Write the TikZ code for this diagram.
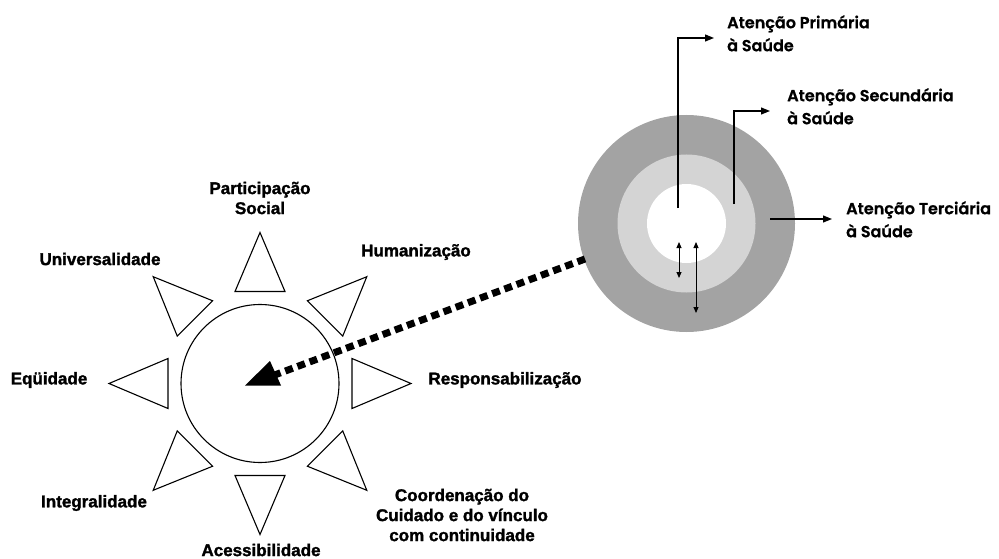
\documentclass[tikz,border=0pt]{standalone}
\usepackage{fontspec}
\newfontfamily\principlefont[FakeBold=1.6]{Liberation Sans Bold}
\newfontfamily\levelfont[FakeBold=0.8]{Poppins SemiBold}
\usetikzlibrary{calc,arrows.meta}

\definecolor{ringouter}{HTML}{A3A3A3}
\definecolor{ringmiddle}{HTML}{D4D4D4}

\tikzset{
  principle/.style={font=\principlefont\fontsize{17}{20}\selectfont, align=center, inner sep=0pt},
  level/.style={font=\levelfont\fontsize{16}{23}\selectfont, align=left, inner sep=0pt, anchor=north west},
  ray/.style={draw=black, line width=1.1pt, fill=white, line join=miter},
  pointer/.style={line width=1.2pt, -{Triangle[length=9pt,width=7pt]}},
  updown/.style={line width=1pt, {Triangle[length=6pt,width=5pt]}-{Triangle[length=6pt,width=5pt]}},
  chain/.style={line width=7pt, dash pattern=on 8pt off 5pt},
}

\begin{document}
\begin{tikzpicture}[x=1pt,y=-1pt]
  \useasboundingbox (0,0) rectangle (999,559);

  % ---- principles wheel ----
  \coordinate (c) at (260,383.5);
  \draw[line width=1.1pt] (c) circle[radius=79pt];
  \foreach \a in {0,45,...,315}{
    \draw[ray] ($(c)+(\a:92)+(\a+90:25)$) -- ($(c)+(\a:151)$) -- ($(c)+(\a:92)+(\a-90:25)$) -- cycle;
  }

  \node[principle] (ps)  at (260,198) {Participação\\Social};
  \node[principle] (hum) at (416,252) {Humanização};
  \node[principle] (uni) at (100,259) {Universalidade};
  \node[principle] (eq)  at (49,380)  {Eqüidade};
  \node[principle] (res) at (505,380) {Responsabilização};
  \node[principle] (int) at (94,503)  {Integralidade};
  \node[principle] (ace) at (261,550) {Acessibilidade};
  \node[principle] (coo) at (462,515) {Coordenação do\\Cuidado e do vínculo\\com continuidade};

  % ---- levels of care ----
  \coordinate (r) at (686.5,223.5);
  \fill[ringouter]  (r) circle[radius=108.5pt];
  \fill[ringmiddle] (r) circle[radius=69pt];
  \fill[white]      (r) circle[radius=39.5pt];

  \node[level] (ap) at (727,15)  {Atenção Primária\\à Saúde};
  \node[level] (as) at (787,88)  {Atenção Secundária\\à Saúde};
  \node[level] (at) at (846,201) {Atenção Terciária\\à Saúde};

  \coordinate (p0) at (678,208);
  \coordinate (p1) at (678,38);
  \coordinate (p2) at (714,38);
  \coordinate (s0) at (734,204);
  \coordinate (s1) at (734,111);
  \coordinate (s2) at (770,111);
  \coordinate (t0) at (770,219);
  \coordinate (t1) at (832,219);
  \draw[pointer] (p0) -- (p1) -- (p2);
  \draw[pointer] (s0) -- (s1) -- (s2);
  \draw[pointer] (t0) -- (t1);

  \coordinate (u0) at (679,242);
  \coordinate (u1) at (679,278);
  \coordinate (v0) at (696,242);
  \coordinate (v1) at (696,313);
  \draw[updown] (u0) -- (u1);
  \draw[updown] (v0) -- (v1);

  % ---- link between the two diagrams ----
  \coordinate (lk0) at (585,259);
  \coordinate (lk1) at (272,376);
  \draw[chain] (lk0) -- (lk1);
  \coordinate (h0) at (245,385.5);
  \coordinate (h1) at (270,361);
  \coordinate (h2) at (281,385.5);
  \fill (h0) -- (h1) -- (h2) -- cycle;
\end{tikzpicture}
\end{document}
